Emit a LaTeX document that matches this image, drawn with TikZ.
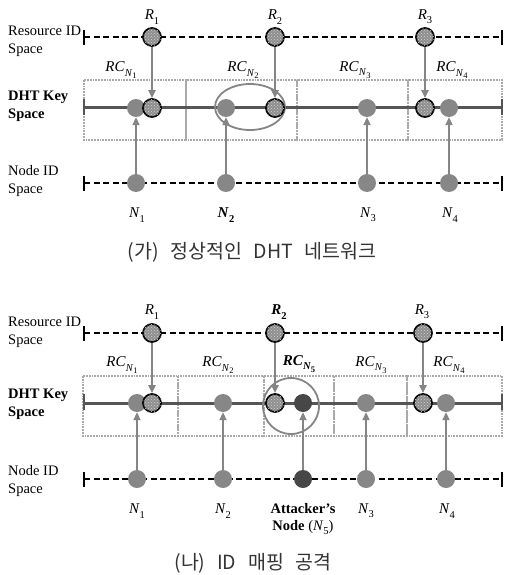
\documentclass[tikz,border=0pt]{standalone}
\usepackage{fontspec}
\setmainfont{Liberation Serif}
\newfontfamily\krfont{Noto Sans CJK KR}
\usetikzlibrary{arrows.meta,patterns}
\definecolor{ngray}{HTML}{878787}
\definecolor{agray}{HTML}{474747}
\definecolor{lgray}{HTML}{858585}
\definecolor{kgray}{HTML}{555555}
\definecolor{bgray}{HTML}{AAAAAA}
\definecolor{rgray}{HTML}{8E8E8E}
\definecolor{cgray}{HTML}{333333}
\newcommand\mysub[1]{\raisebox{-0.28em}{\fontsize{10.5}{11}\selectfont #1}}
\newcommand\mysubb[1]{\raisebox{-0.2em}{\fontsize{8.5}{9}\selectfont #1}}
\newcommand\capsp{\hspace{0.6em}}
\begin{document}
\begin{tikzpicture}[x=1pt,y=-1pt,
  dashline/.style={black, line width=1.6pt, dash pattern=on 6pt off 3.5pt},
  endtick/.style={black, line width=2.2pt},
  keytick/.style={kgray, line width=2.2pt},
  keyline/.style={kgray, line width=3pt},
  rcbox/.style={draw=bgray, line width=1.8pt, densely dotted},
  nodec/.style={circle, fill=ngray, minimum size=18pt, inner sep=0pt},
  attc/.style={circle, fill=agray, minimum size=18pt, inner sep=0pt},
  resc/.style={circle, draw=black, line width=1.7pt, fill=rgray, minimum size=18pt, inner sep=0pt,
    postaction={pattern=crosshatch dots, pattern color=gray!35}},
  arr/.style={draw=lgray, line width=2pt, -{Triangle[length=8pt,width=7pt]}},
  ring/.style={draw=lgray, line width=1.8pt},
  lbl/.style={font=\fontsize{14.5}{18}\selectfont, align=left, anchor=west, inner sep=0pt},
  mlbl/.style={font=\fontsize{15}{17}\selectfont, inner sep=0pt},
  captxt/.style={font=\krfont\fontsize{19.5}{22}\selectfont, text=cgray, inner sep=0pt}
]
\useasboundingbox (0,0) rectangle (505,575);

% ================= TOP PANEL =================
\node[lbl] (tl1) at (8,41) {Resource ID\\Space};
\node[lbl, font=\fontsize{14.5}{18}\selectfont\bfseries] (tl2) at (8,106) {DHT Key\\Space};
\node[lbl] (tl3) at (8,181) {Node ID\\Space};

% boxes
\draw[rcbox] (84,80) rectangle (186,140);
\draw[rcbox] (186,80) rectangle (297,140);
\draw[rcbox] (297,80) rectangle (408,140);
\draw[rcbox] (408,80) rectangle (502,140);

% axes
\coordinate (ta1) at (84,37); \coordinate (ta2) at (502,37);
\coordinate (tk1) at (84,108); \coordinate (tk2) at (502,108);
\coordinate (tn1) at (84,183); \coordinate (tn2) at (502,183);
\draw[dashline] (ta1) -- (ta2);
\draw[endtick] (84,30) -- (84,45); \draw[endtick] (502,30) -- (502,45);
\draw[keyline] (tk1) -- (tk2);
\draw[keytick] (84,99) -- (84,115); \draw[keytick] (502,99) -- (502,115);
\draw[dashline] (tn1) -- (tn2);
\draw[endtick] (84,176) -- (84,191); \draw[endtick] (502,176) -- (502,191);

% ellipse
\draw[ring] (250,107) ellipse [x radius=35, y radius=23];

% nodes
\node[resc] (tR1) at (152,37) {};
\node[resc] (tR2) at (275,37) {};
\node[resc] (tR3) at (425,37) {};
\node[nodec] (tK1) at (136,108) {};
\node[resc] (tKR1) at (152,108) {};
\node[nodec] (tK2) at (226,108) {};
\node[resc] (tKR2) at (275,108) {};
\node[nodec] (tK3) at (367,108) {};
\node[resc] (tKR3) at (425,108) {};
\node[nodec] (tK4) at (449,108) {};
\node[nodec] (tN1) at (136,183) {};
\node[nodec] (tN2) at (226,183) {};
\node[nodec] (tN3) at (367,183) {};
\node[nodec] (tN4) at (449,183) {};

% arrows
\draw[arr] (tR1) -- (tKR1);
\draw[arr] (tR2) -- (tKR2);
\draw[arr] (tR3) -- (tKR3);
\draw[arr] (tN1) -- (tK1);
\draw[arr] (tN2) -- (tK2);
\draw[arr] (tN3) -- (tK3);
\draw[arr] (tN4) -- (tK4);

% labels
\node[mlbl] (tlR1) at (152,17) {\textit{R}\mysub{1}};
\node[mlbl] (tlR2) at (275,17) {\textit{R}\mysub{2}};
\node[mlbl] (tlR3) at (425,17) {\textit{R}\mysub{3}};
\node[mlbl] (tlC1) at (121,70) {\textit{RC}\mysub{\textit{N}\mysubb{1}}};
\node[mlbl] (tlC2) at (243,70) {\textit{RC}\mysub{\textit{N}\mysubb{2}}};
\node[mlbl] (tlC3) at (355,70) {\textit{RC}\mysub{\textit{N}\mysubb{3}}};
\node[mlbl] (tlC4) at (452,70) {\textit{RC}\mysub{\textit{N}\mysubb{4}}};
\node[mlbl] (tlN1) at (137,215) {\textit{N}\mysub{1}};
\node[mlbl] (tlN2) at (226,215) {\textbf{\textit{N}\mysub{2}}};
\node[mlbl] (tlN3) at (368,215) {\textit{N}\mysub{3}};
\node[mlbl] (tlN4) at (450,215) {\textit{N}\mysub{4}};

\node[captxt] (cap1) at (252,252) {(가)\capsp 정상적인\capsp DHT\capsp 네트워크};

% ================= BOTTOM PANEL =================
\node[lbl] (bl1) at (8,332) {Resource ID\\Space};
\node[lbl, font=\fontsize{14.5}{18}\selectfont\bfseries] (bl2) at (8,404) {DHT Key\\Space};
\node[lbl] (bl3) at (8,481) {Node ID\\Space};

\draw[rcbox] (83,376) rectangle (178,436);
\draw[rcbox] (178,376) rectangle (264,436);
\draw[rcbox] (264,376) rectangle (334,436);
\draw[rcbox] (334,376) rectangle (407,436);
\draw[rcbox] (407,376) rectangle (502,436);

\coordinate (ba1) at (84,333); \coordinate (ba2) at (502,333);
\coordinate (bk1) at (84,403); \coordinate (bk2) at (502,403);
\coordinate (bn1) at (84,479); \coordinate (bn2) at (502,479);
\draw[dashline] (ba1) -- (ba2);
\draw[endtick] (84,326) -- (84,341); \draw[endtick] (502,326) -- (502,341);
\draw[keyline] (bk1) -- (bk2);
\draw[keytick] (84,394) -- (84,410); \draw[keytick] (502,394) -- (502,410);
\draw[dashline] (bn1) -- (bn2);
\draw[endtick] (84,472) -- (84,487); \draw[endtick] (502,472) -- (502,487);

\draw[ring] (291,406) circle [radius=28];

\node[resc] (bR1) at (152,333) {};
\node[resc] (bR2) at (275,333) {};
\node[resc] (bR3) at (423,333) {};
\node[nodec] (bK1) at (137,403) {};
\node[resc] (bKR1) at (152,403) {};
\node[nodec] (bK2) at (223,403) {};
\node[resc] (bKR2) at (275,403) {};
\node[attc] (bK5) at (303,403) {};
\node[nodec] (bK3) at (366,403) {};
\node[resc] (bKR3) at (423,403) {};
\node[nodec] (bK4) at (446,403) {};
\node[nodec] (bN1) at (137,479) {};
\node[nodec] (bN2) at (223,479) {};
\node[attc] (bN5) at (303,479) {};
\node[nodec] (bN3) at (366,479) {};
\node[nodec] (bN4) at (446,479) {};

\draw[arr] (bR1) -- (bKR1);
\draw[arr] (bR2) -- (bKR2);
\draw[arr] (bR3) -- (bKR3);
\draw[arr] (bN1) -- (bK1);
\draw[arr] (bN2) -- (bK2);
\draw[arr] (bN5) -- (bK5);
\draw[arr] (bN3) -- (bK3);
\draw[arr] (bN4) -- (bK4);

\node[mlbl] (blR1) at (152,312) {\textit{R}\mysub{1}};
\node[mlbl] (blR2) at (279,312) {\textbf{\textit{R}\mysub{2}}};
\node[mlbl] (blR3) at (422,312) {\textit{R}\mysub{3}};
\node[mlbl] (blC1) at (122,365) {\textit{RC}\mysub{\textit{N}\mysubb{1}}};
\node[mlbl] (blC2) at (218,365) {\textit{RC}\mysub{\textit{N}\mysubb{2}}};
\node[mlbl] (blC5) at (299,364) {\textbf{\textit{RC}\mysub{\textit{N}\mysubb{5}}}};
\node[mlbl] (blC3) at (371,365) {\textit{RC}\mysub{\textit{N}\mysubb{3}}};
\node[mlbl] (blC4) at (449,365) {\textit{RC}\mysub{\textit{N}\mysubb{4}}};
\node[mlbl] (blN1) at (137,511) {\textit{N}\mysub{1}};
\node[mlbl] (blN2) at (223,511) {\textit{N}\mysub{2}};
\node[mlbl] (blN3) at (366,511) {\textit{N}\mysub{3}};
\node[mlbl] (blN4) at (447,511) {\textit{N}\mysub{4}};
\node[mlbl, font=\fontsize{14.5}{17}\selectfont, align=center] (blAtt) at (303,519) {\textbf{Attacker’s}\\\textbf{Node} (\textit{N}\mysub{5})};

\node[captxt] (cap2) at (253,563) {(나)\capsp ID\capsp 매핑\capsp 공격};
\end{tikzpicture}
\end{document}
